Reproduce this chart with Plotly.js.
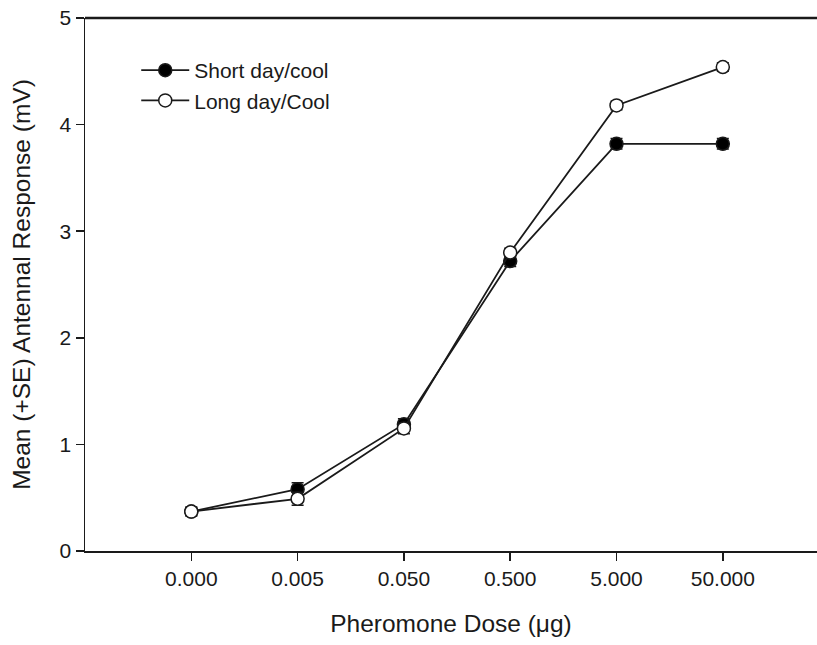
<!DOCTYPE html>
<html>
<head>
<meta charset="utf-8">
<script src="https://cdn.plot.ly/plotly-3.0.1.min.js"></script>
<style>
html,body{margin:0;padding:0;background:#fff;}
#chart{width:817px;height:645px;}
</style>
</head>
<body>
<div id="chart"></div>
<script>
const doses = ["0.000", "0.005", "0.050", "0.500", "5.000", "50.000"];
const shortDay = [0.37, 0.58, 1.19, 2.72, 3.82, 3.82];
const shortDaySE = [0.04, 0.06, 0.05, 0.05, 0.05, 0.05];
const longDay = [0.37, 0.49, 1.15, 2.80, 4.18, 4.54];
const longDaySE = [0.04, 0.06, 0.05, 0.04, 0.04, 0.04];
const seriesNames = ["Short day/cool", "Long day/Cool"];

const ink = "#1a1a1a";
const traces = [
  {
    x: doses, y: shortDay, name: seriesNames[0], type: "scatter", mode: "lines+markers",
    line: {color: ink, width: 1.8},
    marker: {symbol: "circle", size: 13, color: "#000", line: {color: ink, width: 1.5}},
    error_y: {type: "data", array: shortDaySE, visible: true, color: ink, thickness: 1.5, width: 6}
  },
  {
    x: doses, y: longDay, name: seriesNames[1], type: "scatter", mode: "lines+markers",
    line: {color: ink, width: 1.8},
    marker: {symbol: "circle", size: 13, color: "#fff", line: {color: ink, width: 1.5}},
    error_y: {type: "data", array: longDaySE, visible: true, color: ink, thickness: 1.5, width: 6}
  }
];

const layout = {
  width: 817, height: 645,
  margin: {l: 85, r: 0, t: 18, b: 94},
  paper_bgcolor: "#fff", plot_bgcolor: "#fff",
  font: {family: "Liberation Sans, Arial, sans-serif", color: ink, size: 21},
  showlegend: true,
  legend: {
    x: 0.07, y: 0.94, xanchor: "left", yanchor: "top",
    bgcolor: "rgba(0,0,0,0)", font: {size: 21, color: ink},
    traceorder: "normal", itemwidth: 48, tracegroupgap: 0
  },
  xaxis: {
    type: "category", range: [-1, 5.886],
    showgrid: false, zeroline: false,
    showline: true, linecolor: ink, linewidth: 1.5,
    ticks: "outside", ticklen: 8, tickwidth: 1.5, tickcolor: ink,
    tickfont: {size: 21, color: ink},
    title: {text: "Pheromone Dose (μg)", font: {size: 24.5, color: ink}, standoff: 26}
  },
  yaxis: {
    range: [0, 5], tickvals: [0, 1, 2, 3, 4, 5],
    showgrid: false, zeroline: false,
    showline: true, linecolor: ink, linewidth: 1.5,
    ticks: "outside", ticklen: 8, tickwidth: 1.5, tickcolor: ink,
    tickfont: {size: 21, color: ink},
    title: {text: "Mean (+SE) Antennal Response (mV)", font: {size: 24.5, color: ink}, standoff: 22}
  },
  shapes: [
    {type: "line", xref: "paper", yref: "paper", x0: 0, x1: 1, y0: 1, y1: 1,
     line: {color: ink, width: 2.5}}
  ]
};

Plotly.newPlot("chart", traces, layout, {displayModeBar: false, staticPlot: true});
</script>
</body>
</html>
